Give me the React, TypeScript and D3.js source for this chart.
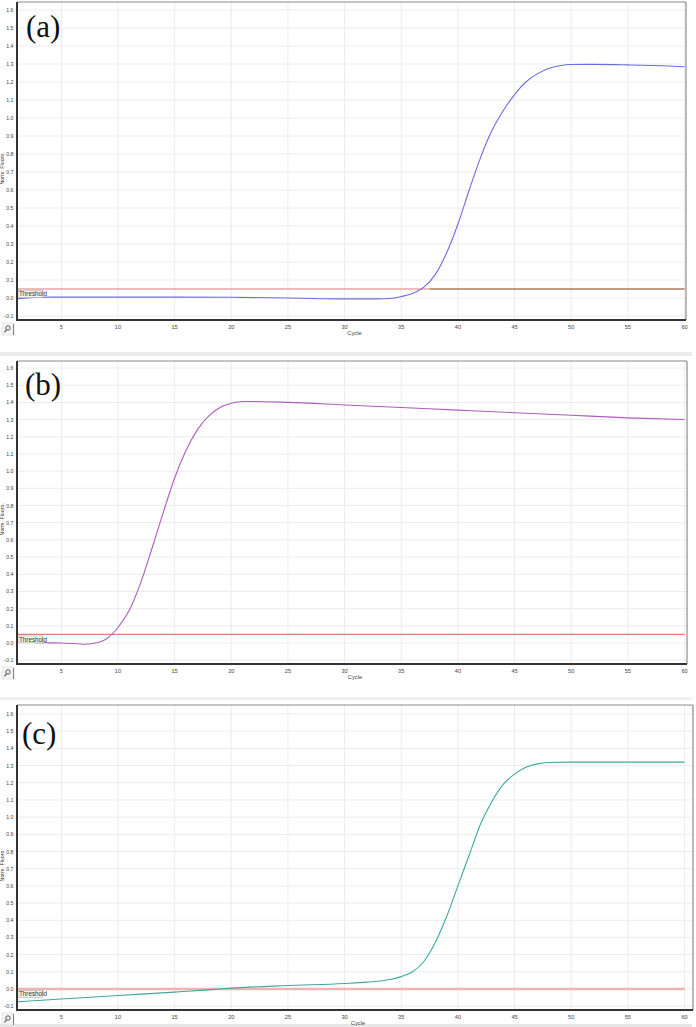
import React from "react";
import * as d3 from "d3";

// ---------- data ----------
const cyclesA = [1, 2, 3, 5, 10, 15, 20, 25, 28, 30, 33, 34, 35, 36, 37, 38, 39, 40, 41, 42, 43, 44, 45, 46, 47, 48, 49, 50, 52, 55, 58, 60];
const valuesA = [-0.005, 0, 0.004, 0.005, 0.005, 0.005, 0.004, 0.0, -0.004, -0.005, -0.005, -0.003, 0.008, 0.025, 0.06, 0.13, 0.25, 0.41, 0.6, 0.78, 0.93, 1.04, 1.13, 1.2, 1.245, 1.275, 1.29, 1.297, 1.298, 1.295, 1.29, 1.285];

const cyclesB = [1, 2, 3, 4, 5, 6, 7, 8, 9, 10, 11, 12, 13, 14, 15, 16, 17, 18, 19, 20, 21, 22, 25, 30, 35, 40, 45, 50, 55, 60];
const valuesB = [0.01, 0.005, 0.002, 0.001, 0, -0.003, -0.007, 0.0, 0.025, 0.09, 0.19, 0.35, 0.55, 0.76, 0.96, 1.12, 1.24, 1.32, 1.37, 1.395, 1.405, 1.405, 1.4, 1.385, 1.37, 1.355, 1.34, 1.325, 1.31, 1.3];

const cyclesC = [1, 5, 10, 15, 18, 20, 25, 30, 32, 34, 35, 36, 37, 38, 39, 40, 41, 42, 43, 44, 45, 46, 47, 48, 50, 55, 60];
const valuesC = [-0.075, -0.058, -0.038, -0.018, -0.005, 0.005, 0.02, 0.032, 0.04, 0.055, 0.072, 0.1, 0.16, 0.27, 0.42, 0.6, 0.78, 0.96, 1.09, 1.19, 1.25, 1.29, 1.31, 1.318, 1.32, 1.32, 1.32];

const thresholds = [0.05, 0.05, 0.0];
const panelLabels = ["(a)", "(b)", "(c)"];
const xTicks = [5, 10, 15, 20, 25, 30, 35, 40, 45, 50, 55, 60];
const yTicks = [-0.1, 0, 0.1, 0.2, 0.3, 0.4, 0.5, 0.6, 0.7, 0.8, 0.9, 1.0, 1.1, 1.2, 1.3, 1.4, 1.5, 1.6];

type PanelCfg = {
  cycles: number[];
  values: number[];
  color: string;
  threshold: number;
  thrColor: string;
  thrWidth: number;
  thrAltFrom: number | null;
  label: string;
  top: number;
  y0: number;
  y16: number;
  bottom: number;
  right: number;
  labelBaseline: number;
  labelX: number;
};

const LEFT = 17;
const SANS = "Liberation Sans, Arial, sans-serif";

const panels: PanelCfg[] = [
  { cycles: cyclesA, values: valuesA, color: "#6c6ce0", threshold: thresholds[0], thrColor: "#df7a7a", thrWidth: 1.2, thrAltFrom: 37.5, label: panelLabels[0], top: 2, y0: 298, y16: 10, bottom: 320, right: 686, labelBaseline: 37, labelX: 26 },
  { cycles: cyclesB, values: valuesB, color: "#ae5cbc", threshold: thresholds[1], thrColor: "#e07c7c", thrWidth: 1.2, thrAltFrom: null, label: panelLabels[1], top: 361, y0: 643, y16: 368, bottom: 664, right: 687, labelBaseline: 395, labelX: 25 },
  { cycles: cyclesC, values: valuesC, color: "#3fa89e", threshold: thresholds[2], thrColor: "#f0b2b2", thrWidth: 2.4, thrAltFrom: null, label: panelLabels[2], top: 705, y0: 989, y16: 714, bottom: 1010, right: 693, labelBaseline: 744, labelX: 22 },
];

function Panel({ p }: { p: PanelCfg }) {
  const x = d3.scaleLinear().domain([1, 60]).range([16, 684.5]);
  const y = d3.scaleLinear().domain([0, 1.6]).range([p.y0, p.y16]);
  const line = d3
    .line<number>()
    .x((_, i) => x(p.cycles[i]))
    .y((d) => y(d))
    .curve(d3.curveMonotoneX);
  const path = line(p.values) || "";
  const thrY = y(p.threshold);
  const tickY = p.bottom + 9;
  const midY = y(0.72);
  return (
    <g>
      {yTicks.map((t) => (
        <line key={"gy" + t} x1={LEFT} x2={p.right} y1={y(t)} y2={y(t)} stroke="#ececec" strokeWidth={1} />
      ))}
      {xTicks.map((t) => (
        <line key={"gx" + t} x1={x(t)} x2={x(t)} y1={p.top} y2={p.bottom} stroke="#ececec" strokeWidth={1} />
      ))}
      <line x1={LEFT} x2={p.right} y1={p.top} y2={p.top} stroke="#8a8a8a" strokeWidth={1.2} />
      <line x1={p.right} x2={p.right} y1={p.top} y2={p.bottom} stroke="#8a8a8a" strokeWidth={1.2} />
      <line x1={LEFT} x2={x(60)} y1={thrY} y2={thrY} stroke={p.thrColor} strokeWidth={p.thrWidth} />
      {p.thrAltFrom !== null && (
        <line x1={x(p.thrAltFrom)} x2={x(60)} y1={thrY} y2={thrY} stroke="#8c7d55" strokeWidth={1.2} />
      )}
      <path d={path} fill="none" stroke={p.color} strokeWidth={1.1} />
      <rect x={LEFT + 1} y={thrY + 1.5} width={25} height={7} fill="#f2f2f2" stroke="#b0b0b0" strokeWidth={0.6} />
      <text x={LEFT + 2} y={thrY + 7.3} fontSize={6.3} fontFamily={SANS} fill="#333">Threshold</text>
      <line x1={LEFT} x2={LEFT} y1={p.top} y2={p.bottom + 1} stroke="#333" strokeWidth={2} />
      <line x1={LEFT} x2={p.right} y1={p.bottom} y2={p.bottom} stroke="#333" strokeWidth={2} />
      {yTicks.map((t) => (
        <text key={"ty" + t} x={13.5} y={y(t) + 2} textAnchor="end" fontSize={5.2} fontFamily={SANS} fill="#444">
          {d3.format(".1f")(t)}
        </text>
      ))}
      {xTicks.map((t) => (
        <text key={"tx" + t} x={x(t)} y={tickY} textAnchor="middle" fontSize={5.6} fontFamily={SANS} fill="#444">
          {t}
        </text>
      ))}
      <text x={(LEFT + p.right) / 2 + 3} y={p.bottom + 15} textAnchor="middle" fontSize={5.8} fontFamily={SANS} fill="#444">Cycle</text>
      <text transform={`translate(4.3,${midY}) rotate(-90)`} textAnchor="middle" fontSize={5.3} fontFamily={SANS} fill="#444">Norm. Fluoro.</text>
      <g transform={`translate(2,${p.bottom + 3})`}>
        <rect x={0} y={0} width={12} height={12} fill="#f4f4f4" stroke="#d0d0d0" strokeWidth={0.5} />
        <circle cx={6} cy={5} r={2.2} fill="none" stroke="#555" strokeWidth={1} />
        <line x1={4.5} y1={6.5} x2={2.5} y2={9.5} stroke="#555" strokeWidth={1.2} />
        <line x1={11.5} y1={1} x2={11.5} y2={12} stroke="#666" strokeWidth={0.8} />
      </g>
      <text x={p.labelX} y={p.labelBaseline} fontSize={31} fontFamily="Liberation Serif, serif" fill="#111">{p.label}</text>
    </g>
  );
}

export default function App() {
  return (
    <svg width={696} height={1027} style={{ position: "absolute", left: 0, top: 0, background: "#fff" }}>
      <rect x={0} y={0} width={696} height={1027} fill="#fff" />
      <rect x={0} y={352} width={692} height={4} fill="#ececec" />
      <rect x={0} y={697} width={692} height={3} fill="#f0f0f0" />
      <rect x={0} y={1024} width={692} height={3} fill="#e6e6e6" />
      {panels.map((p, i) => (
        <Panel key={i} p={p} />
      ))}
    </svg>
  );
}
